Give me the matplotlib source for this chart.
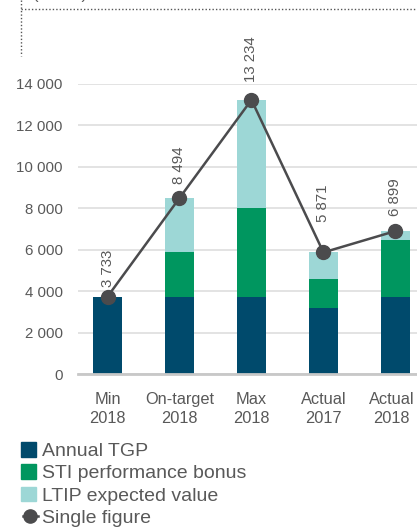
import matplotlib
matplotlib.use("Agg")
import matplotlib.pyplot as plt
import numpy as np
from matplotlib.lines import Line2D
from matplotlib.patches import Patch
from matplotlib.legend_handler import HandlerLine2D
from matplotlib.transforms import ScaledTranslation

# Remuneration scenarios (R'000)
scenarios = ["Min\n2018", "On-target\n2018", "Max\n2018", "Actual\n2017", "Actual\n2018"]
annual_tgp = [3733, 3733, 3733, 3188, 3733]
sti_bonus = [0, 2160, 4290, 1400, 2740]
single_figure = [3733, 8494, 13234, 5871, 6899]
ltip_value = [t - a - s for t, a, s in zip(single_figure, annual_tgp, sti_bonus)]
y_ticks = [0, 2000, 4000, 6000, 8000, 10000, 12000, 14000]

# how far each value label sits above its dot (points)
label_pad = [7, 10, 13, 22, 11]

navy = "#004a6c"
green = "#00965f"
teal = "#9dd7d6"
dark = "#4b4b4d"
grey_txt = "#595959"

plt.rcParams["font.family"] = ["Liberation Sans", "DejaVu Sans"]


def fmt(v):
    return f"{v:,}".replace(",", " ")


fig = plt.figure(figsize=(4.17, 5.29), dpi=100)
ax = fig.add_axes([78 / 417, 155 / 529, 339 / 417, 290 / 529])

x = np.arange(len(scenarios))
w = 0.40
ax.bar(x, annual_tgp, w, color=navy, zorder=2)
ax.bar(x, sti_bonus, w, bottom=annual_tgp, color=green, zorder=2)
ax.bar(x, ltip_value, w, bottom=np.add(annual_tgp, sti_bonus), color=teal, zorder=2)
ax.plot(x, single_figure, color=dark, lw=1.8, marker="o", ms=10, zorder=3)

for xi, v, p in zip(x, single_figure, label_pad):
    ax.annotate(fmt(v), (xi, v), xytext=(0, p), textcoords="offset points",
                rotation=90, ha="center", va="bottom", fontsize=10.8,
                color=grey_txt, annotation_clip=False)

ax.set_xlim(-0.41, 4.30)
ax.set_ylim(0, 14000)
ax.set_yticks(y_ticks)
ax.set_yticklabels([fmt(t) for t in y_ticks], fontsize=10.8, color=grey_txt)
ax.set_xticks(x)
ax.set_xticklabels(scenarios, fontsize=11.8, color=grey_txt, linespacing=1.3)
ax.tick_params(axis="y", length=0, pad=11)
ax.tick_params(axis="x", length=0, pad=13)
ax.grid(axis="y", color="#e3e3e3", lw=1.4, zorder=0)
for s in ["top", "right", "left"]:
    ax.spines[s].set_visible(False)
ax.spines["bottom"].set_color("#c8c8c8")
ax.spines["bottom"].set_linewidth(2)
ax.spines["bottom"].set_zorder(4)

# keep the last category label inside the right edge
last = ax.get_xticklabels()[-1]
last.set_transform(last.get_transform() + ScaledTranslation(-4 / 100, 0, fig.dpi_scale_trans))


class DotLeft(HandlerLine2D):
    def get_xdata(self, legend, xdescent, ydescent, width, height, fontsize):
        xd = np.array([-xdescent + 0.1 * width, -xdescent + 1.15 * width])
        return xd, np.array([-xdescent + 0.1 * width])


handles = [Patch(color=navy), Patch(color=green), Patch(color=teal),
           Line2D([], [], color=dark, lw=1.8, marker="o", ms=9.5)]
labels = ["Annual TGP", "STI performance bonus", "LTIP expected value", "Single figure"]
leg = fig.legend(handles, labels, loc="upper left", bbox_to_anchor=(21 / 417, 1 - 442 / 529),
                 frameon=False, fontsize=14, handlelength=0.78, handleheight=0.78,
                 handletextpad=0.28, labelspacing=0.22, borderpad=0, borderaxespad=0,
                 handler_map={handles[3]: DotLeft(numpoints=1)})
for t in leg.get_texts():
    t.set_color(grey_txt)

# dotted frame around the chart heading
fig.add_artist(Line2D([20.5 / 417, 20.5 / 417], [1, 1 - 56 / 529], transform=fig.transFigure,
                      color="#555555", lw=1, ls=(0, (1, 1.5))))
fig.add_artist(Line2D([20.5 / 417, 1], [1 - 9 / 529, 1 - 9 / 529], transform=fig.transFigure,
                      color="#555555", lw=1, ls=(0, (1, 1.5))))
fig.text(33 / 417, 1 + 1 / 529, "(R'000)", fontsize=12, color=grey_txt,
         va="baseline", ha="left")

fig.savefig("out.png", dpi=100)
